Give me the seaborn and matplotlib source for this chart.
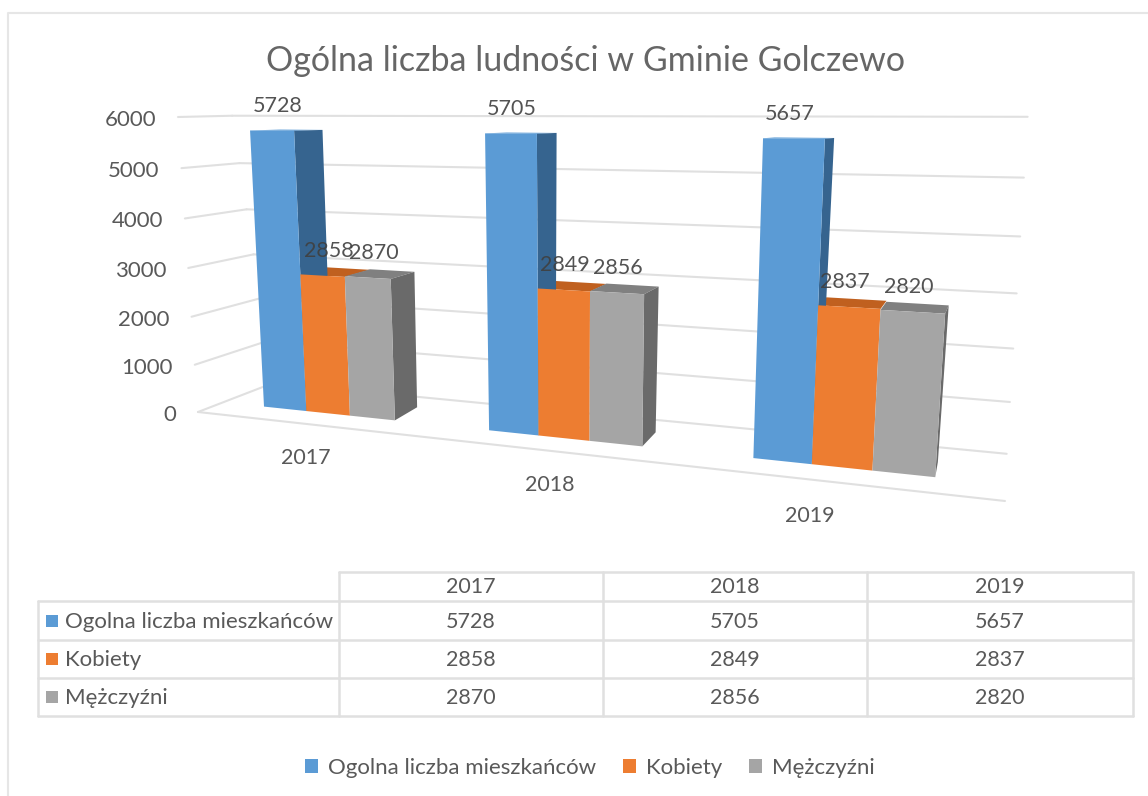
import numpy as np
import pandas as pd
import matplotlib
matplotlib.use('Agg')
import matplotlib.pyplot as plt
import seaborn as sns
from matplotlib.patches import Polygon
from matplotlib.transforms import Transform

years = ['2017', '2018', '2019']
series = ['Ogolna liczba mieszkańców', 'Kobiety', 'Mężczyźni']
total = [5728, 5705, 5657]
women = [2858, 2849, 2837]
men = [2870, 2856, 2820]
y_ticks = [0, 1000, 2000, 3000, 4000, 5000, 6000]
title = 'Ogólna liczba ludności w Gminie Golczewo'

front_colors = ['#5B9BD5', '#ED7D31', '#A5A5A5']
top_colors = ['#5B9BD5', '#C0601F', '#808080']
side_colors = ['#36648F', '#C0601F', '#6A6A6A']
line_color = '#E0E0E0'
text_color = '#595959'


# perspective calibration: (data x, data y) -> reference pixel
front_plane = [(-0.3, 0, 265.7, 406.7), (-0.3, 5728, 250.7, 130.7), (0.3, 0, 392.3, 420), (0.3, 2870, 387.3, 278.3),
               (0.7, 0, 492, 430.7), (0.7, 5705, 486, 133.3), (1.3, 0, 640.7, 446), (1.3, 2856, 640.7, 294),
               (1.7, 0, 758.3, 459), (1.7, 5657, 766, 139), (2.3, 0, 934, 477.3), (2.3, 2820, 943.3, 312.7)]
back_plane = [(-0.1, 5728, 322.7, 130), (0.3, 0, 417.3, 406.7), (0.3, 2870, 413.3, 272.7),
              (0.9, 5705, 557.3, 132.7), (1.3, 0, 656.7, 431.7), (1.3, 2856, 657.7, 286.7),
              (1.9, 5657, 835, 137.7), (2.3, 0, 938.3, 463), (2.3, 2820, 947.3, 305)]
back_wall = [(0, 0, 274, 384), (0, 3000, 253, 252), (0, 6000, 232, 117),
             (1, 0, 1006, 455), (1, 3000, 1017, 291), (1, 6000, 1028, 118)]
axis_edge = [(198, 412), (178, 117)]
edge_persp = -0.0077


class Perspective(Transform):
    input_dims = 2
    output_dims = 2

    def __init__(self, anchors):
        super().__init__()
        rows = []
        for x, y, u, v in anchors:
            y = y / 1000
            rows.append([x, y, 1, 0, 0, 0, -u * x, -u * y, -u])
            rows.append([0, 0, 0, x, y, 1, -v * x, -v * y, -v])
        self.h = np.linalg.svd(np.array(rows))[2][-1].reshape(3, 3)

    def transform_non_affine(self, values):
        pts = np.asarray(values, dtype=float).reshape(-1, 2)
        p = np.column_stack([pts[:, 0], pts[:, 1] / 1000, np.ones(len(pts))]) @ self.h.T
        return p[:, :2] / p[:, 2:]


front = Perspective(front_plane)
back = Perspective(back_plane)
wall = Perspective(back_wall)


def pt(tr, x, y):
    return tr.transform_non_affine([[x, y]])[0]


def edge_pt(t):
    # point on the slanted value axis at the left of the left wall
    v = t / 1000
    s = v * (1 + 6 * edge_persp) / (6 * (1 + edge_persp * v))
    return np.array(axis_edge[0]) + s * (np.array(axis_edge[1]) - np.array(axis_edge[0]))


sns.set_theme(style='white')
plt.rcParams['font.family'] = ['Lato', 'DejaVu Sans']

df = pd.DataFrame({'rok': years * 3,
                   'seria': np.repeat(series, 3),
                   'liczba': total + women + men})

fig, ax = plt.subplots(figsize=(11.48, 7.96), dpi=100)
ax.set_position([0, 0, 1, 1])
sns.barplot(data=df, x='rok', y='liczba', hue='seria', hue_order=series, palette=front_colors,
            width=0.6, gap=0, errorbar=None, saturation=1, linewidth=0, ax=ax)
ax.set_xlim(0, 1148)
ax.set_ylim(796, 0)
ax.axis('off')

# chart frame
ax.plot([8, 8, 1148], [796, 13, 13], color='#E6E6E6', lw=1.5, zorder=1)

# gridlines, back wall and left wall
for t in y_ticks:
    ax.plot([0, 1], [t, t], color=line_color, lw=1.5, transform=wall + ax.transData, zorder=1)
    px, py = edge_pt(t)
    cx, cy = pt(wall, 0, t)
    ax.plot([px, cx], [py, cy], color=line_color, lw=1.5, zorder=1)
    ax.text(px - 22, py + 3, str(t), ha='right', va='center', fontsize=16, color=text_color)

# floor edge
ax.plot([198, 1005], [412, 501], color=line_color, lw=1.5, zorder=1)

for i in range(len(years)):
    bars = [c[i] for c in ax.containers]
    x0 = [b.get_x() for b in bars]
    x1 = [b.get_x() + b.get_width() for b in bars]
    h = [b.get_height() for b in bars]

    # top faces
    for j in range(3):
        poly = [pt(front, x0[j], h[j]), pt(front, x1[j], h[j]), pt(back, x1[j], h[j]), pt(back, x0[j], h[j])]
        ax.add_patch(Polygon(poly, fc=top_colors[j], ec='none', zorder=2))
    # blue bar side, gray bar side
    poly = [pt(front, x1[0], 0), pt(front, x1[0], h[0]), pt(back, x1[0], h[0]), pt(back, x1[0], 0)]
    ax.add_patch(Polygon(poly, fc=side_colors[0], ec='none', zorder=2))
    poly = [pt(front, x1[2], 0), pt(front, x1[2], h[2]), pt(back, x1[2], h[2]), pt(back, x1[2], 0)]
    ax.add_patch(Polygon(poly, fc=side_colors[2], ec='none', zorder=2))

    for j, b in enumerate(bars):
        b.set_transform(front + ax.transData)
        b.set_clip_on(False)
        b.set_zorder(3)
        px, py = pt(front, x0[j] + (x1[j] - x0[j]) / 2, h[j])
        ax.text(px + 6 - 5 * i, py - 25, str(int(h[j])), ha='center', va='center', fontsize=15.5,
                color='#404040', alpha=0.9, zorder=5)

# category labels
for yr, lx, ly in zip(years, [306, 550, 810], [458, 485, 516]):
    ax.text(lx, ly, yr, ha='center', va='center', fontsize=15.5, color=text_color)

ax.text(585, 61, title, ha='center', va='center', fontsize=24.5, color='#666666')

# data table
col_x = [339, 603, 867, 1133]
row_y = [572, 601, 640, 678, 716]
ax.plot([339, 1133], [572, 572], color=line_color, lw=1.8)
for y in row_y[1:]:
    ax.plot([38, 1133], [y, y], color=line_color, lw=1.8)
ax.plot([38, 38], [601, 716], color=line_color, lw=1.8)
for x in col_x:
    ax.plot([x, x], [572, 716], color=line_color, lw=1.8)
for j, yr in enumerate(years):
    cx = (col_x[j] + col_x[j + 1]) / 2
    ax.text(cx, 587, yr, ha='center', va='center', fontsize=15.5, color=text_color)
    for k, vals in enumerate([total, women, men]):
        ax.text(cx, (row_y[k + 1] + row_y[k + 2]) / 2 + 1, str(vals[j]), ha='center', va='center',
                fontsize=15.5, color=text_color)
for k, name in enumerate(series):
    cy = (row_y[k + 1] + row_y[k + 2]) / 2
    ax.scatter([52], [cy], marker='s', s=65, color=front_colors[k], linewidth=0)
    ax.text(65, cy + 1, name, ha='left', va='center', fontsize=16, color=text_color)

sns.move_legend(ax, 'center', bbox_to_anchor=(590 / 1148, 1 - 768 / 796), ncol=3, frameon=False, title=None,
                fontsize=16, labelcolor=text_color, handlelength=0.6, handleheight=0.6,
                handletextpad=0.45, columnspacing=1.2)

fig.savefig('out.png', dpi=100)
